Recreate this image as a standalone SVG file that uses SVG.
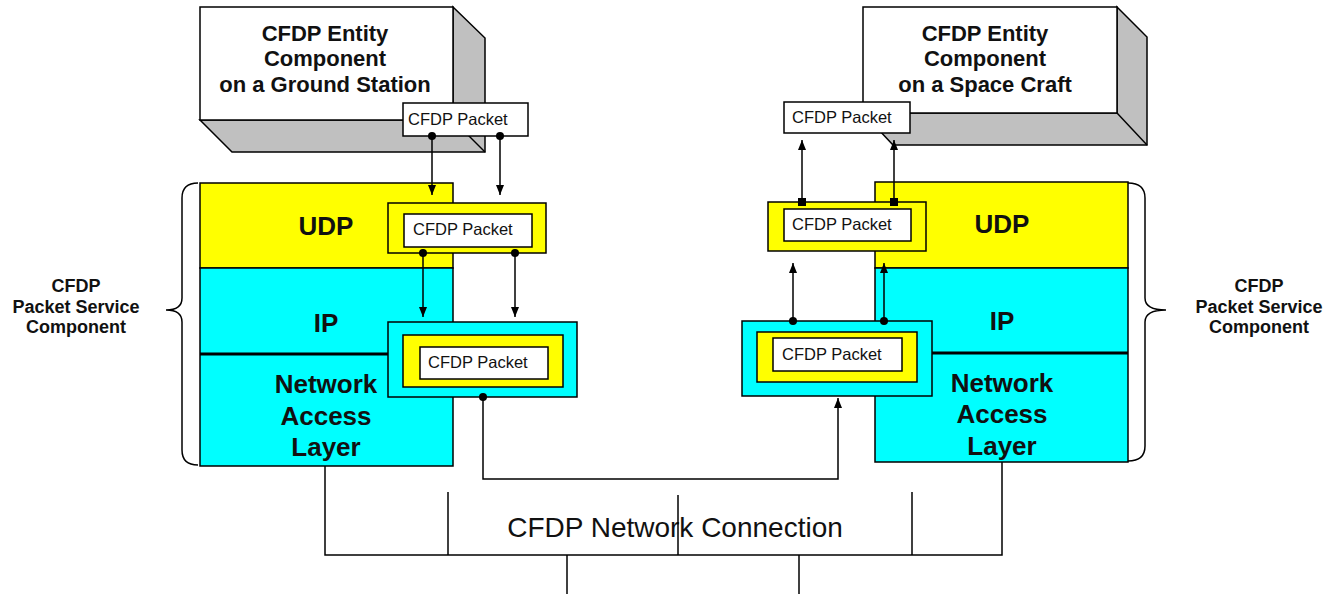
<svg xmlns="http://www.w3.org/2000/svg" width="1335" height="594" viewBox="0 0 1335 594">
<defs>
<style>
.bg{fill:#ffffff}
.face{fill:#ffffff;stroke:#000;stroke-width:1.5}
.shade{fill:#c0c0c0;stroke:#000;stroke-width:1.5;stroke-linejoin:miter}
.yel{fill:#ffff00;stroke:#000;stroke-width:1.5}
.cyn{fill:#00ffff;stroke:#000;stroke-width:1.5}
.wht{fill:#ffffff;stroke:#000;stroke-width:1.5}
.sep{stroke:#000;stroke-width:1.5;fill:none}
.thick{stroke:#000;stroke-width:3;fill:none}
.ln{stroke:#000;stroke-width:1.5;fill:none}
.arr{stroke:#000;stroke-width:1.5;fill:none;marker-end:url(#ah)}
.dot{fill:#000}
.ent{font-family:"Liberation Sans",Arial,sans-serif;font-weight:bold;font-size:22px;text-anchor:middle;fill:#111}
.lay{font-family:"Liberation Sans",Arial,sans-serif;font-weight:bold;font-size:26px;text-anchor:middle;fill:#111}
.pkt{font-family:"Liberation Sans",Arial,sans-serif;font-size:16.5px;fill:#111}
.svc{font-family:"Liberation Sans",Arial,sans-serif;font-weight:bold;font-size:18px;text-anchor:middle;fill:#111}
.net{font-family:"Liberation Sans",Arial,sans-serif;font-size:28px;text-anchor:middle;fill:#111}
</style>
<marker id="ah" viewBox="0 0 10 8" refX="10" refY="4" markerWidth="10" markerHeight="8" markerUnits="userSpaceOnUse" orient="auto">
<path d="M0,0 L10,4 L0,8 z" fill="#000"/>
</marker>
</defs>
<rect class="bg" x="0" y="0" width="1335" height="594"/>

<g id="ground-entity">
<polygon class="shade" points="453,7 485,38 485,152 232,152 200,120 453,120"/>
<line class="ln" x1="453" y1="120" x2="485" y2="152"/>
<rect class="face" x="200" y="7" width="253" height="113"/>
<text class="ent" x="325" y="41">CFDP Entity</text>
<text class="ent" x="325" y="66">Component</text>
<text class="ent" x="325" y="92">on a Ground Station</text>
</g>

<g id="space-entity">
<polygon class="shade" points="1117,7 1147,37 1147,145 893,145 863,113 1117,113"/>
<line class="ln" x1="1117" y1="113" x2="1147" y2="145"/>
<rect class="face" x="863" y="7" width="254" height="106"/>
<text class="ent" x="985" y="41">CFDP Entity</text>
<text class="ent" x="985" y="66">Component</text>
<text class="ent" x="985" y="92">on a Space Craft</text>
</g>

<g id="left-stack">
<rect class="yel" x="200" y="183" width="253" height="85"/>
<rect class="cyn" x="200" y="268" width="253" height="198"/>
<line class="thick" x1="200" y1="354" x2="453" y2="354"/>
<text class="lay" x="326" y="235">UDP</text>
<text class="lay" x="326" y="332">IP</text>
<text class="lay" x="326" y="393">Network</text>
<text class="lay" x="326" y="425">Access</text>
<text class="lay" x="326" y="456">Layer</text>
</g>

<g id="right-stack">
<rect class="yel" x="875" y="182" width="253" height="86"/>
<rect class="cyn" x="875" y="268" width="253" height="194"/>
<line class="thick" x1="875" y1="353" x2="1128" y2="353"/>
<text class="lay" x="1002" y="233">UDP</text>
<text class="lay" x="1002" y="330">IP</text>
<text class="lay" x="1002" y="392">Network</text>
<text class="lay" x="1002" y="423">Access</text>
<text class="lay" x="1002" y="455">Layer</text>
</g>

<g id="left-brace">
<path class="ln" d="M198 183 Q182 183 182 198 V298 Q182 310 166 310 Q182 310 182 322 V450 Q182 465 198 465"/>
<text class="svc" x="76" y="292">CFDP</text>
<text class="svc" x="76" y="313">Packet Service</text>
<text class="svc" x="76" y="333">Component</text>
</g>

<g id="right-brace">
<path class="ln" d="M1128 183 Q1145 183 1145 198 V298 Q1145 310 1166 310 Q1145 310 1145 322 V446 Q1145 461 1128 461"/>
<text class="svc" x="1259" y="292">CFDP</text>
<text class="svc" x="1259" y="313">Packet Service</text>
<text class="svc" x="1259" y="333">Component</text>
</g>

<g id="left-app-packet">
<rect class="wht" x="403" y="103" width="125" height="33"/>
<text class="pkt" x="408" y="125">CFDP Packet</text>
</g>

<g id="left-udp-packet">
<rect class="yel" x="388" y="203" width="158" height="50"/>
<rect class="wht" x="404" y="214" width="128" height="33"/>
<text class="pkt" x="413" y="235">CFDP Packet</text>
</g>

<g id="left-ip-packet">
<rect class="cyn" x="388" y="322" width="189" height="75"/>
<rect class="yel" x="403" y="335" width="160" height="52"/>
<rect class="wht" x="420" y="347" width="128" height="32"/>
<text class="pkt" x="428" y="368">CFDP Packet</text>
</g>

<g id="right-app-packet">
<rect class="wht" x="784" y="102" width="126" height="31"/>
<text class="pkt" x="792" y="123">CFDP Packet</text>
</g>

<g id="right-udp-packet">
<rect class="yel" x="768" y="202" width="158" height="49"/>
<rect class="wht" x="784" y="209" width="127" height="32"/>
<text class="pkt" x="792" y="230">CFDP Packet</text>
</g>

<g id="right-ip-packet">
<rect class="cyn" x="742" y="321" width="190" height="75"/>
<rect class="yel" x="757" y="332" width="160" height="50"/>
<rect class="wht" x="773" y="338" width="129" height="33"/>
<text class="pkt" x="782" y="360">CFDP Packet</text>
</g>

<g id="network-label">
<text class="net" x="675" y="537">CFDP Network Connection</text>
</g>

<g id="connectors">
<path class="arr" d="M432 136 V195"/>
<path class="arr" d="M500 136 V195"/>
<circle class="dot" cx="432" cy="136" r="4"/>
<circle class="dot" cx="500" cy="136" r="4"/>
<path class="arr" d="M423 253 V317"/>
<path class="arr" d="M515 253 V317"/>
<circle class="dot" cx="423" cy="253" r="4"/>
<circle class="dot" cx="515" cy="253" r="4"/>
<path class="arr" d="M483 397 V479 H838 V398"/>
<circle class="dot" cx="483" cy="397" r="4"/>
<path class="arr" d="M802 202 V140"/>
<path class="arr" d="M894 202 V140"/>
<rect class="dot" x="798" y="198" width="8" height="8"/>
<rect class="dot" x="890" y="198" width="8" height="8"/>
<path class="arr" d="M793 321 V263"/>
<path class="arr" d="M884 321 V263"/>
<circle class="dot" cx="793" cy="321" r="4"/>
<circle class="dot" cx="884" cy="321" r="4"/>
<path class="ln" d="M325 466 V555 H1002 V462"/>
<path class="ln" d="M448 492 V555"/>
<path class="ln" d="M678 495 V555"/>
<path class="ln" d="M912 492 V555"/>
<path class="ln" d="M567 555 V594"/>
<path class="ln" d="M799 555 V594"/>
</g>
</svg>
